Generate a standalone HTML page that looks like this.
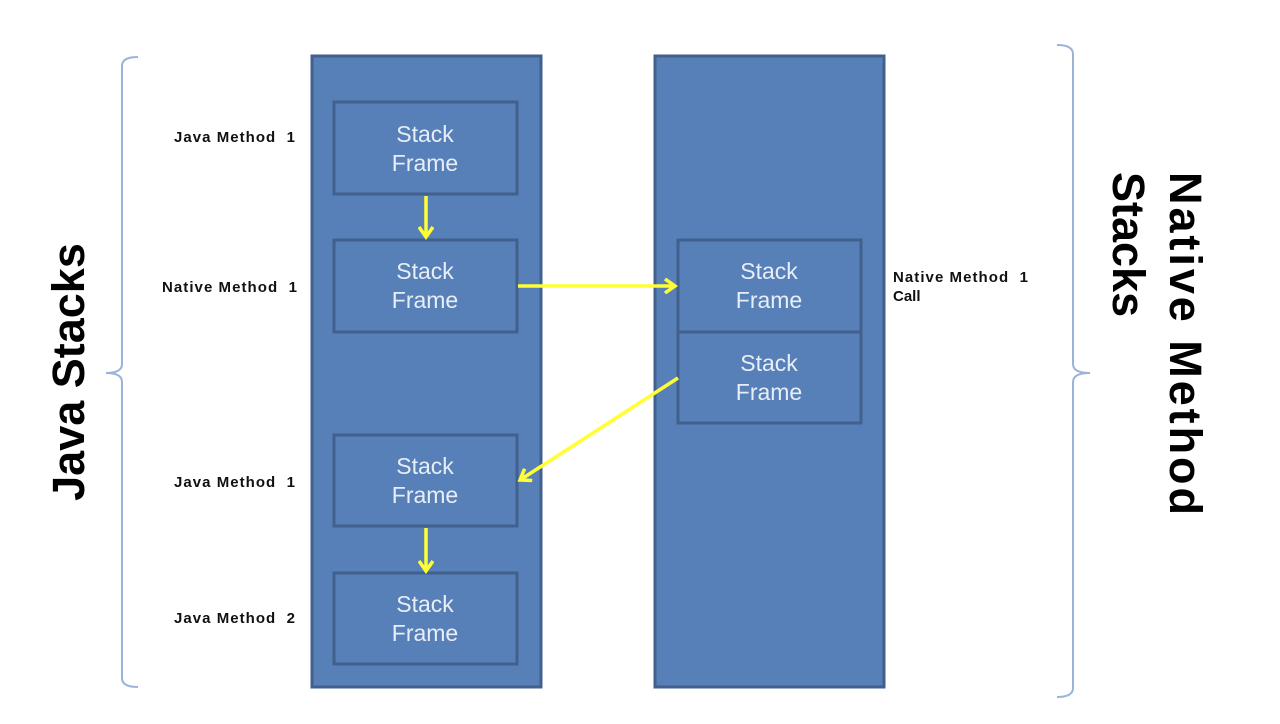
<!DOCTYPE html>
<html><head><meta charset="utf-8"><style>
html,body{margin:0;padding:0;background:#fff;}
svg{display:block;}
</style></head><body>
<svg width="1280" height="724" viewBox="0 0 1280 724" xmlns="http://www.w3.org/2000/svg" font-family="Liberation Sans, sans-serif">
<defs>
<marker id="ah" markerWidth="16" markerHeight="16" refX="12" refY="8" orient="auto" markerUnits="userSpaceOnUse">
<path d="M2,1 L12,8 L2,15" fill="none" stroke="#ffff33" stroke-width="3.5"/>
</marker>
</defs>
<rect width="1280" height="724" fill="#fff"/>
<path d="M138,57 Q122,57 122,66 L122,364 Q122,373 106,373 Q122,373 122,382 L122,678 Q122,687 138,687" fill="none" stroke="#9bb3d9" stroke-width="2"/>
<path d="M1057,45 Q1073,45 1073,54 L1073,364 Q1073,373 1090,373 Q1073,373 1073,382 L1073,688 Q1073,697 1057,697" fill="none" stroke="#9bb3d9" stroke-width="2"/>
<rect x="312" y="56" width="229" height="631" fill="#5880b8" stroke="#41608d" stroke-width="3"/>
<rect x="655" y="56" width="229" height="631" fill="#5880b8" stroke="#41608d" stroke-width="3"/>
<g fill="#5880b8" stroke="#41608d" stroke-width="3">
<rect x="334" y="102" width="183" height="92"/>
<rect x="334" y="240" width="183" height="92"/>
<rect x="334" y="435" width="183" height="91"/>
<rect x="334" y="573" width="183" height="91"/>
<rect x="678" y="240" width="183" height="92"/>
<rect x="678" y="332" width="183" height="91"/>
</g>
<g fill="#e8eef8" font-size="23" text-anchor="middle">
<text x="425" y="142">Stack</text><text x="425" y="171">Frame</text>
<text x="425" y="279">Stack</text><text x="425" y="308">Frame</text>
<text x="425" y="474">Stack</text><text x="425" y="503">Frame</text>
<text x="425" y="612">Stack</text><text x="425" y="641">Frame</text>
<text x="769" y="279">Stack</text><text x="769" y="308">Frame</text>
<text x="769" y="371">Stack</text><text x="769" y="400">Frame</text>
</g>
<g stroke="#ffff33" stroke-width="3.5" fill="none" marker-end="url(#ah)">
<line x1="426" y1="196" x2="426" y2="237"/>
<line x1="426" y1="528" x2="426" y2="571"/>
<line x1="518" y1="286" x2="675" y2="286"/>
<line x1="678" y1="378" x2="520" y2="480"/>
</g>
<g font-size="15" font-weight="bold" fill="#111">
<text x="174" y="142" textLength="121" lengthAdjust="spacing">Java Method&#160;&#160;1</text>
<text x="162" y="292" textLength="135" lengthAdjust="spacing">Native Method&#160;&#160;1</text>
<text x="174" y="487" textLength="121" lengthAdjust="spacing">Java Method&#160;&#160;1</text>
<text x="174" y="623" textLength="121" lengthAdjust="spacing">Java Method&#160;&#160;2</text>
<text x="893" y="282" textLength="135" lengthAdjust="spacing">Native Method&#160;&#160;1</text>
<text x="893" y="301">Call</text>
</g>
<text transform="translate(84,372) rotate(-90)" font-size="45" font-weight="bold" text-anchor="middle" fill="#000">Java Stacks</text>
<text transform="translate(1170,172) rotate(90)" font-size="45" font-weight="bold" fill="#000" textLength="343" lengthAdjust="spacing">Native Method</text>
<text transform="translate(1113,172) rotate(90)" font-size="45" font-weight="bold" fill="#000">Stacks</text>
</svg>
</body></html>
